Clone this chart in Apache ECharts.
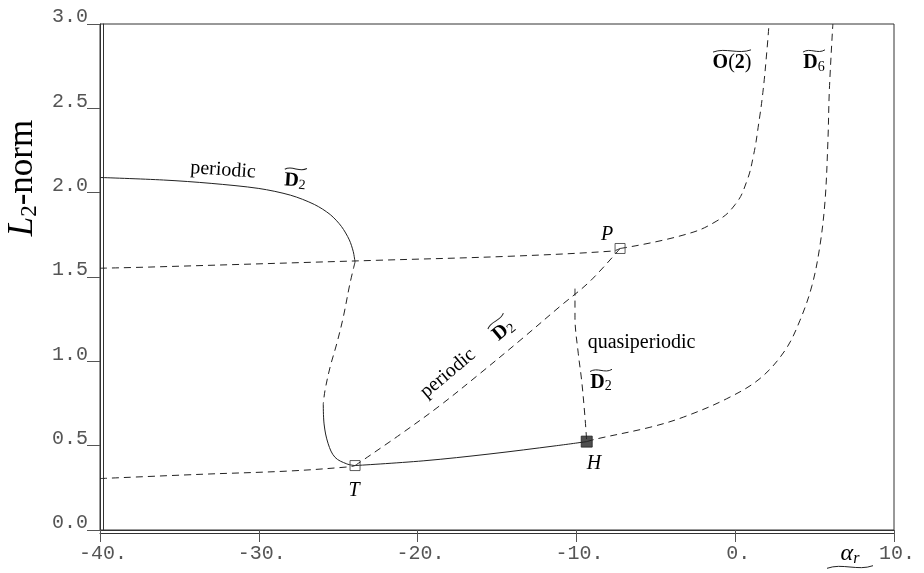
<!DOCTYPE html>
<html><head><meta charset="utf-8">
<script src="https://cdn.jsdelivr.net/npm/echarts@6/dist/echarts.min.js"></script>
<style>html,body{margin:0;padding:0;background:#fff}#c{width:924px;height:573px}</style>
</head><body><div id="c"></div>
<script>
// ---------- data (alpha_r, L2-norm) ----------
const xTicks = [-40, -30, -20, -10, 0, 10];
const yTicks = [0.0, 0.5, 1.0, 1.5, 2.0, 2.5, 3.0];

const periodicUpperSolid = [[-40,2.09],[-36,2.075],[-33,2.055],[-30,2.025],[-28,1.985],[-26.5,1.93],[-25.5,1.87],[-24.8,1.80],[-24.3,1.72],[-24.05,1.65],[-23.94,1.589]];
const periodicMiddleDashed = [[-23.94,1.589],[-24.26,1.461],[-24.68,1.262],[-25.09,1.105],[-25.51,0.966],[-25.83,0.828],[-25.94,0.748]];
const periodicLowerSolid = [[-25.94,0.748],[-25.89,0.629],[-25.63,0.511],[-25.2,0.431],[-24.46,0.392],[-23.94,0.382]];
const trivialLeftDashed = [[-40,0.305],[-33.7,0.33],[-28.03,0.35],[-24.26,0.375],[-23.94,0.382]];
const torusSolid = [[-23.94,0.382],[-19.65,0.41],[-15.44,0.451],[-11.24,0.50],[-9.35,0.524]];
const d6Branch = [[-9.35,0.524],[-8.73,0.540],[-5.37,0.609],[-3.27,0.669],[-0.54,0.778],[1.56,0.898],[3.14,1.065],[4.08,1.243],[4.84,1.451],[5.34,1.688],[5.66,1.955],[5.84,2.31],[5.93,2.61],[6.15,3.0]];
const upperDashedLeft = [[-40,1.552],[-36.85,1.559],[-22.56,1.599],[-14.18,1.623],[-7.7,1.654],[-7.25,1.669]];
const o2Branch = [[-7.25,1.669],[-3.29,1.748],[-1.2,1.83],[0.0,1.93],[0.7,2.06],[1.15,2.22],[1.48,2.41],[1.76,2.609],[2.0,2.846],[2.13,3.0]];
const diagPeriodic = [[-23.94,0.382],[-21.1,0.566],[-18.59,0.738],[-16.07,0.928],[-13.55,1.124],[-11.03,1.326],[-9.14,1.475],[-7.25,1.669]];
const quasiBranch = [[-10.09,1.431],[-10.09,1.262],[-9.88,1.045],[-9.67,0.887],[-9.46,0.669],[-9.35,0.524]];
const openSquares = [[-23.94,0.382],[-7.25,1.669]];
const filledSquares = [[-9.35,0.524]];

// ---------- styling ----------
const INK = '#222';
const DASH = [7, 5];
const SERIF = 'Liberation Serif';
const MONO = 'Liberation Mono';

function lineSeries(data, dashed, sm) {
  return {
    type: 'line', data: data, showSymbol: false, smooth: sm || 0.35, silent: true,
    lineStyle: { color: INK, width: 1, type: dashed ? DASH : 'solid' },
    z: 2
  };
}

const frameLine = { show: true, onZero: false, lineStyle: { color: '#333', width: 1 } };

const chart = echarts.init(document.getElementById('c'), null, { renderer: 'canvas' });
const option = {
  backgroundColor: '#fff',
  animation: false,
  grid: { left: 100, right: 30, top: 24, bottom: 43, show: true, borderColor: '#333', borderWidth: 1 },
  xAxis: [{
    type: 'value', min: xTicks[0], max: xTicks[xTicks.length - 1], interval: 10,
    axisLine: frameLine,
    axisTick: { show: true, inside: false, length: 12, lineStyle: { color: '#555' } },
    axisLabel: { show: true, margin: 14, fontFamily: MONO, fontSize: 20, color: '#555',
      padding: [0, 0, 0, 6], formatter: v => v + '.' },
    splitLine: { show: false }
  }, {
    type: 'value', min: xTicks[0], max: xTicks[xTicks.length - 1], interval: 10, position: 'bottom', offset: 3,
    axisLine: frameLine,
    axisTick: { show: false }, axisLabel: { show: false }, splitLine: { show: false }
  }],
  yAxis: [{
    type: 'value', min: yTicks[0], max: yTicks[yTicks.length - 1], interval: 0.5,
    axisLine: frameLine,
    axisTick: { show: true, inside: false, length: 13, lineStyle: { color: '#555' } },
    axisLabel: { show: true, margin: 12, fontFamily: MONO, fontSize: 20, color: '#555',
      verticalAlign: 'bottom', lineHeight: 14, formatter: v => v.toFixed(1) },
    splitLine: { show: false }
  }, {
    type: 'value', min: yTicks[0], max: yTicks[yTicks.length - 1], interval: 0.5, position: 'left', offset: -3,
    axisLine: frameLine,
    axisTick: { show: false }, axisLabel: { show: false }, splitLine: { show: false }
  }],
  series: [
    lineSeries(periodicUpperSolid, false, 0.3),
    lineSeries(periodicMiddleDashed, true),
    lineSeries(periodicLowerSolid, false),
    lineSeries(trivialLeftDashed, true),
    lineSeries(torusSolid, false),
    lineSeries(d6Branch, true),
    lineSeries(upperDashedLeft, true),
    lineSeries(o2Branch, true, 0.45),
    lineSeries(diagPeriodic, true),
    lineSeries(quasiBranch, true),
    { type: 'scatter', data: openSquares, symbol: 'rect', symbolSize: 10, silent: true, z: 5,
      itemStyle: { color: 'rgba(0,0,0,0)', borderColor: '#333', borderWidth: 1 } },
    { type: 'scatter', data: filledSquares, symbol: 'rect', symbolSize: 11, silent: true, z: 5,
      itemStyle: { color: '#222', borderColor: '#222', borderWidth: 1 } }
  ]
};
chart.setOption(option);

// ---------- annotations (text anchored in data coordinates) ----------
const richBase = {
  n: { fontFamily: SERIF, fontSize: 20, color: INK },
  i: { fontFamily: SERIF, fontSize: 20, fontStyle: 'italic', color: INK },
  b: { fontFamily: SERIF, fontSize: 20, fontWeight: 'bold', color: INK },
  s: { fontFamily: SERIF, fontSize: 14, color: INK, verticalAlign: 'bottom', padding: [8, 0, 0, 0] }
};
const annotations = [
  { text: '{n|periodic}', at: [-32.25, 2.134], rot: -4 },
  { text: '{b|D}{s|2}', at: [-27.72, 2.07], rot: -4, tilde: 22 },
  { text: '{n|periodic}', at: [-18.09, 0.929], rot: 40 },
  { text: '{b|D}{s|2}', at: [-14.6, 1.184], rot: 40, tilde: 22 },
  { text: '{n|quasiperiodic}', at: [-5.9, 1.112], rot: 0 },
  { text: '{b|D}{s|2}', at: [-8.45, 0.875], rot: 0, tilde: 22 },
  { text: '{b|O}{n|(}{b|2}{n|)}', at: [-0.2, 2.769], rot: 0, tilde: 38 },
  { text: '{b|D}{s|6}', at: [4.96, 2.769], rot: 0, tilde: 22 },
  { text: '{i|P}', at: [-8.07, 1.748], rot: 0 },
  { text: '{i|T}', at: [-24.0, 0.233], rot: 0 },
  { text: '{i|H}', at: [-8.89, 0.395], rot: 0 }
];

function tildePath(w, yOff, amp) {
  return {
    type: 'bezierCurve',
    shape: { x1: -w / 2, y1: yOff + amp * 0.5, x2: w / 2, y2: yOff - amp * 0.5,
      cpx1: -w / 6, cpy1: yOff - amp * 1.6, cpx2: w / 6, cpy2: yOff + amp * 1.6 },
    style: { stroke: INK, lineWidth: 1, fill: null }
  };
}

const graphics = annotations.map(a => {
  const p = chart.convertToPixel({ gridIndex: 0 }, a.at);
  const children = [{ type: 'text', style: { text: a.text, rich: richBase, align: 'center', verticalAlign: 'middle' } }];
  if (a.tilde) children.push(tildePath(a.tilde, -12, 2.2));
  return { type: 'group', x: p[0], y: p[1], rotation: a.rot * Math.PI / 180, silent: true, children: children };
});

// y-axis name
graphics.push({
  type: 'group', x: 23, y: 178, rotation: Math.PI / 2, silent: true,
  children: [{ type: 'text', style: {
    text: '{L|L}{s|2}{n|-norm}', align: 'center', verticalAlign: 'middle',
    rich: {
      L: { fontFamily: SERIF, fontSize: 35, fontStyle: 'italic', color: INK },
      s: { fontFamily: SERIF, fontSize: 23, color: INK, verticalAlign: 'bottom', padding: [13, 0, 0, 0] },
      n: { fontFamily: SERIF, fontSize: 35, color: INK }
    } } }]
});
// x-axis name
graphics.push({
  type: 'group', x: 850, y: 554, silent: true,
  children: [{ type: 'text', style: {
    text: '{a|α}{s|r}', align: 'center', verticalAlign: 'middle',
    rich: {
      a: { fontFamily: SERIF, fontSize: 24, fontStyle: 'italic', color: INK },
      s: { fontFamily: SERIF, fontSize: 16, fontStyle: 'italic', color: INK, verticalAlign: 'bottom', padding: [9, 0, 0, 0] }
    } } }, tildePath(46, 13, 2.6)]
});

chart.setOption({ graphic: graphics });
</script></body></html>
